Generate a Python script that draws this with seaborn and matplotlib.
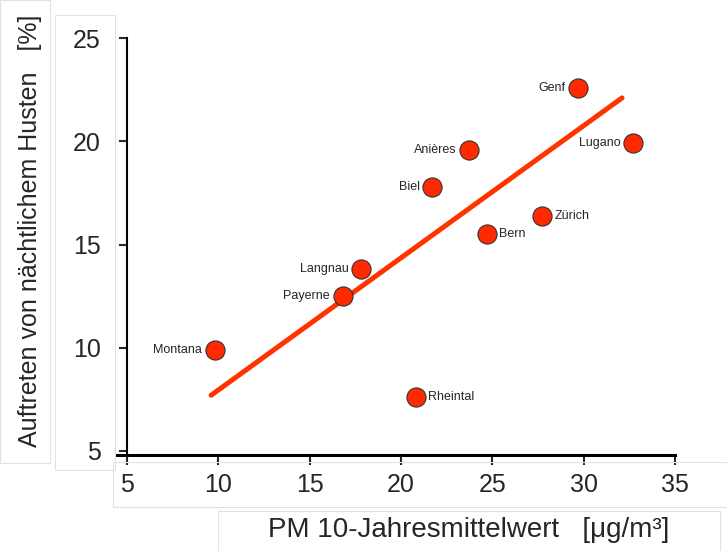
import matplotlib
matplotlib.use("Agg")
import matplotlib.pyplot as plt
from matplotlib.patches import Rectangle
import seaborn as sns
import pandas as pd

# values
orte = ["Montana", "Payerne", "Langnau", "Rheintal", "Biel", "Anières",
        "Bern", "Zürich", "Genf", "Lugano"]
pm10 = [9.8, 16.8, 17.8, 20.8, 21.7, 23.7, 24.7, 27.7, 29.7, 32.7]
husten = [9.9, 12.5, 13.8, 7.6, 17.8, 19.6, 15.5, 16.4, 22.6, 19.9]
label_side = ["l", "l", "l", "r", "l", "l", "r", "r", "l", "l"]

# regression line end points
line_x = [9.6, 32.1]
line_y = [7.7, 22.1]

xticks = [5, 10, 15, 20, 25, 30, 35]
yticks = [5, 10, 15, 20, 25]

df = pd.DataFrame({"ort": orte, "pm10": pm10, "husten": husten})
fit = pd.DataFrame({"x": line_x, "y": line_y})

sns.set_style("white")
plt.rcParams["font.family"] = ["Liberation Sans", "DejaVu Sans"]

fig = plt.figure(figsize=(7.27, 5.51), dpi=100)
ax = fig.add_axes([0.161, 0.174, 0.7675, 0.757])

sns.lineplot(data=fit, x="x", y="y", ax=ax, color="#ff3300", linewidth=3.6, zorder=2)
sns.scatterplot(data=df, x="pm10", y="husten", ax=ax, s=190, color="#ff2a00",
                edgecolor="#333333", linewidth=0.8, zorder=3)

for o, x, y, side in zip(orte, pm10, husten, label_side):
    if side == "l":
        ax.annotate(o, (x, y), xytext=(-9, 0), textcoords="offset points",
                    ha="right", va="center", fontsize=9)
    else:
        ax.annotate(o, (x, y), xytext=(9, 0), textcoords="offset points",
                    ha="left", va="center", fontsize=9)

ax.set_xlim(4.45, 35)
ax.set_ylim(4.8, 25)
ax.set_xticks(xticks)
ax.set_yticks(yticks)
ax.set_xlabel("")
ax.set_ylabel("")

for s in ["top", "right"]:
    ax.spines[s].set_visible(False)
ax.spines["left"].set_position(("data", 5))
ax.spines["left"].set_linewidth(1.5)
ax.spines["bottom"].set_linewidth(2.2)
ax.spines["left"].set_color("black")
ax.spines["bottom"].set_color("black")
ax.spines["left"].set_bounds(4.8, 25)

ax.tick_params(axis="x", direction="out", length=7, width=1.5, pad=6,
               labelsize=18, bottom=True)
ax.tick_params(axis="y", direction="out", length=6, width=1.5, pad=13,
               labelsize=18, left=True)

fig.text(0.041, 0.582, "Auftreten von nächtlichem Husten   [%]", rotation=90,
         ha="center", va="center", fontsize=18)
fig.text(0.644, 0.038, "PM 10-Jahresmittelwert   [μg/m³]",
         ha="center", va="center", fontsize=20)

# faint text-box outlines as in the reference
boxes = [(0, 0, 50, 463), (55, 15, 115, 470), (113, 462, 727, 507), (218, 511, 720, 551)]
for x0, y0, x1, y1 in boxes:
    fig.patches.append(Rectangle((x0 / 727, 1 - y1 / 551), (x1 - x0) / 727, (y1 - y0) / 551,
                                 transform=fig.transFigure, fill=False,
                                 edgecolor="#e2e2e2", linewidth=0.8, zorder=0))

fig.savefig("out.png", dpi=100)
